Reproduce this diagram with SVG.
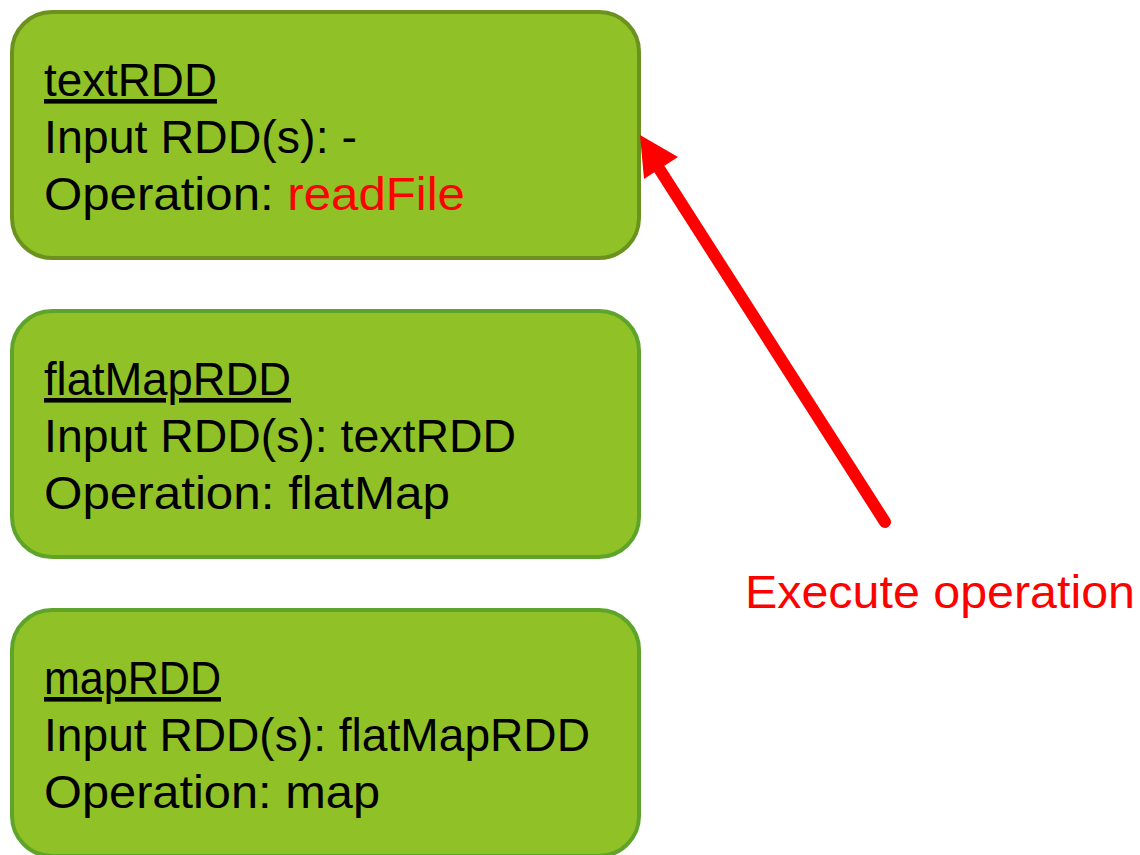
<svg xmlns="http://www.w3.org/2000/svg" width="1140" height="855" viewBox="0 0 1140 855">
<style>
.box{fill:#90c227;stroke-width:4}
.t{font-family:"Liberation Sans",Arial,sans-serif;font-size:46px;fill:#000}
.u{text-decoration:underline}
.red{fill:#ff0000}
</style>
<rect width="1140" height="855" fill="#ffffff"/>
<g id="textRDD">
<rect class="box" x="12" y="12" width="627" height="246" rx="40" stroke="#6b921f"/>
<text class="t u" x="44" y="96" textLength="173" lengthAdjust="spacingAndGlyphs">textRDD</text>
<text class="t" x="44" y="153" textLength="313" lengthAdjust="spacingAndGlyphs">Input RDD(s): -</text>
<text class="t" x="44" y="210" textLength="421" lengthAdjust="spacingAndGlyphs">Operation: <tspan class="red">readFile</tspan></text>
</g>
<g id="flatMapRDD">
<rect class="box" x="12" y="311" width="627" height="246" rx="40" stroke="#5ea42a"/>
<text class="t u" x="44" y="395" textLength="247" lengthAdjust="spacingAndGlyphs">flatMapRDD</text>
<text class="t" x="44" y="452" textLength="472" lengthAdjust="spacingAndGlyphs">Input RDD(s): textRDD</text>
<text class="t" x="44" y="509" textLength="406" lengthAdjust="spacingAndGlyphs">Operation: flatMap</text>
</g>
<g id="mapRDD">
<rect class="box" x="12" y="610" width="627" height="246" rx="40" stroke="#5ea42a"/>
<text class="t u" x="44" y="694" textLength="177" lengthAdjust="spacingAndGlyphs">mapRDD</text>
<text class="t" x="44" y="751" textLength="546" lengthAdjust="spacingAndGlyphs">Input RDD(s): flatMapRDD</text>
<text class="t" x="44" y="808" textLength="336" lengthAdjust="spacingAndGlyphs">Operation: map</text>
</g>
<g id="connectors">
<line x1="885" y1="522" x2="660" y2="170" stroke="#ff0000" stroke-width="12" stroke-linecap="round"/>
<path d="M640,135 L678,157 L644,179 Z" fill="#ff0000"/>
</g>
<g id="label">
<text class="t red" x="745" y="608" textLength="390" lengthAdjust="spacingAndGlyphs">Execute operation</text>
</g>
</svg>
